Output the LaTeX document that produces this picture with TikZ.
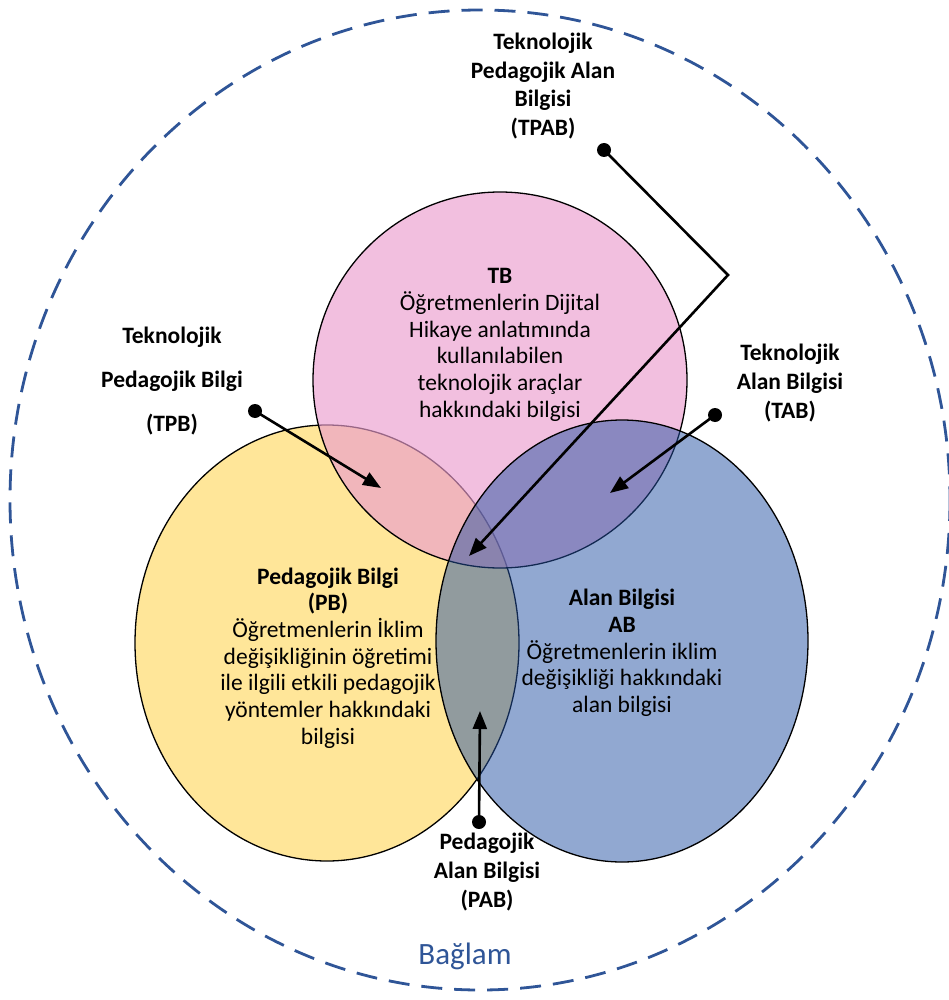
\documentclass[tikz,border=0pt]{standalone}
\usepackage{fontspec}
\setmainfont{Carlito}
\usetikzlibrary{arrows.meta}
\definecolor{baglam}{HTML}{2F5597}
\definecolor{pbfill}{HTML}{FFE699}
\definecolor{tbfill}{HTML}{EB9DCE}
\definecolor{abfill}{HTML}{2452A3}
\tikzset{
  venn/.style={draw=black, line width=1.3pt},
  txt/.style={align=center, inner sep=0pt, font=\fontsize{23.5}{26.7}\selectfont},
  lbl/.style={align=center, inner sep=0pt, font=\fontsize{23.5}{28.7}\selectfont\bfseries},
  dot/.style={circle, fill=black, inner sep=0pt, minimum size=14pt},
  leader/.style={line width=2.6pt, -{Triangle[length=18pt,width=14pt]}},
}
\begin{document}
\begin{tikzpicture}[x=1pt, y=-1pt]
  \useasboundingbox (0,0) rectangle (949,1000);
  % context
  \draw[baglam, line width=2.8pt, dash pattern=on 21pt off 12pt]
    (480,500) ellipse [x radius=470, y radius=490];
  % the three areas of knowledge
  \filldraw[venn, fill=pbfill] (327,643) ellipse [x radius=192, y radius=218];
  \filldraw[venn, fill=tbfill, fill opacity=0.65] (500,380) ellipse [x radius=187, y radius=188];
  \filldraw[venn, fill=abfill, fill opacity=0.5] (622,641) ellipse [x radius=186, y radius=221];
  % texts
  \node[txt] (tb) at (500,345) {\textbf{TB}\\Öğretmenlerin Dijital\\Hikaye anlatımında\\kullanılabilen\\teknolojik araçlar\\hakkındaki bilgisi};
  \node[txt] (pb) at (328,658) {\textbf{Pedagojik Bilgi}\\\textbf{(PB)}\\Öğretmenlerin İklim\\değişikliğinin öğretimi\\ile ilgili etkili pedagojik\\yöntemler hakkındaki\\bilgisi};
  \node[txt] (ab) at (622,653) {\textbf{Alan Bilgisi}\\\textbf{AB}\\Öğretmenlerin iklim\\değişikliği hakkındaki\\alan bilgisi};
  \node[lbl] (tpab) at (543,86) {Teknolojik\\Pedagojik Alan\\Bilgisi\\(TPAB)};
  \node[lbl, font=\fontsize{23.5}{44}\selectfont\bfseries] (tpb) at (172,381) {Teknolojik\\Pedagojik Bilgi\\(TPB)};
  \node[lbl] (tab) at (790,383) {Teknolojik\\Alan Bilgisi\\(TAB)};
  \node[lbl] (pab) at (487,872) {Pedagojik\\Alan Bilgisi\\(PAB)};
  \node[font=\fontsize{31}{34}\selectfont, text=baglam] (baglamtxt) at (465,956) {Bağlam};
  % leaders
  \node[dot] (tpabdot) at (604,150) {};
  \node[dot] (tpbdot) at (255,411) {};
  \node[dot] (tabdot) at (715,415) {};
  \node[dot] (pabdot) at (479,822) {};
  \coordinate (tpabknee) at (728,275);
  \coordinate (tpabtip) at (469,556);
  \coordinate (tpbtip) at (381,488);
  \coordinate (tabtip) at (610,493);
  \coordinate (pabtip) at (480,711);
  \draw[leader] (tpabdot.center) -- (tpabknee) -- (tpabtip);
  \draw[leader] (tpbdot.center) -- (tpbtip);
  \draw[leader] (tabdot.center) -- (tabtip);
  \draw[leader] (pabdot.center) -- (pabtip);
\end{tikzpicture}
\end{document}
